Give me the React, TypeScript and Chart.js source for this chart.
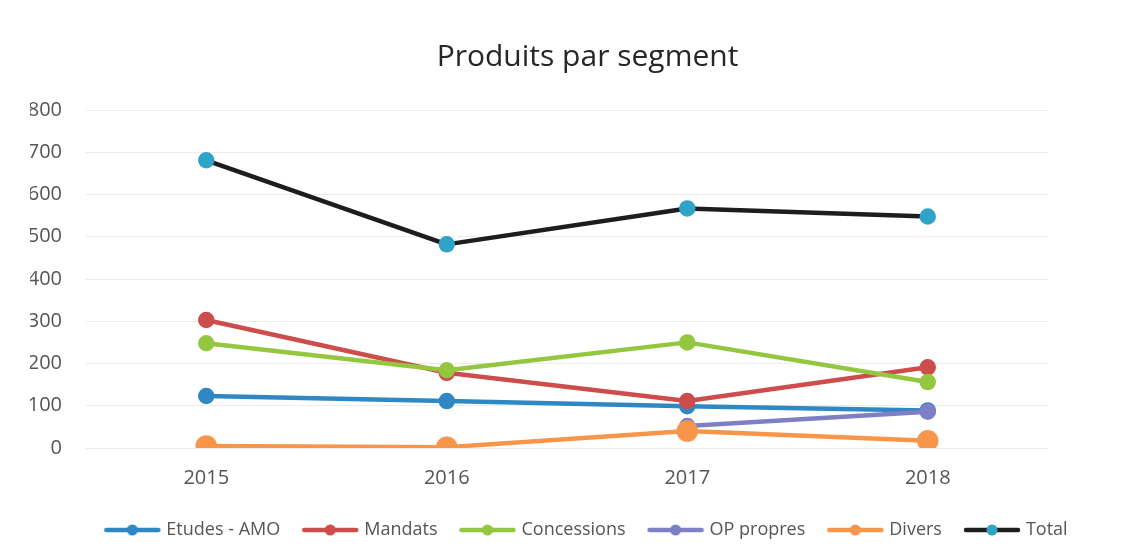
import React, { useEffect, useRef } from "react";
import { Chart, registerables } from "chart.js";

Chart.register(...registerables);

const years = ["2015", "2016", "2017", "2018"];
const etudes = [123, 111, 99, 89];
const mandats = [303, 178, 111, 191];
const concessions = [248, 184, 250, 156];
const opPropres = [null, null, 52, 86];
const divers = [5, 2, 40, 17];
const total = [681, 482, 567, 548];

const seriesNames = ["Etudes - AMO", "Mandats", "Concessions", "OP propres", "Divers", "Total"];
const lineColors = ["#2f88c4", "#cc4d4b", "#94c63f", "#7f7fc6", "#f7964a", "#1d1d1d"];
const dotColors = ["#2f88c4", "#cc4d4b", "#94c63f", "#7f7fc6", "#f7964a", "#2fa3c8"];
const dotRadius = [6, 6, 6, 6, 8.5, 6];

const FONT = "'Open Sans', Lato, sans-serif";

function legendImage(line: string, dot: string): HTMLCanvasElement {
  const c = document.createElement("canvas");
  c.width = 58;
  c.height = 14;
  const ctx = c.getContext("2d")!;
  ctx.strokeStyle = line;
  ctx.lineWidth = 4.5;
  ctx.lineCap = "round";
  ctx.beginPath();
  ctx.moveTo(3, 7);
  ctx.lineTo(55, 7);
  ctx.stroke();
  ctx.fillStyle = dot;
  ctx.beginPath();
  ctx.arc(29, 7, 5.5, 0, Math.PI * 2);
  ctx.fill();
  return c;
}

export default function App() {
  const ref = useRef<HTMLCanvasElement>(null);

  useEffect(() => {
    const values = [etudes, mandats, concessions, opPropres, divers, total];
    const images = seriesNames.map((_, i) => legendImage(lineColors[i], dotColors[i]));
    const chart = new Chart(ref.current!, {
      type: "line",
      data: {
        labels: years,
        datasets: seriesNames.map((name, i) => ({
          label: name,
          data: values[i] as any,
          borderColor: lineColors[i],
          backgroundColor: dotColors[i],
          pointBackgroundColor: dotColors[i],
          pointBorderColor: dotColors[i],
          pointRadius: dotRadius[i],
          pointHoverRadius: dotRadius[i],
          borderWidth: 4.5,
          borderCapStyle: "round" as const,
          borderJoinStyle: "round" as const,
          tension: 0,
          fill: false,
          order: seriesNames.length - i,
        })),
      },
      options: {
        responsive: false,
        animation: false,
        layout: { padding: { left: 30, right: 0, top: 0, bottom: 9 } },
        plugins: {
          title: {
            display: true,
            text: "Produits par segment",
            color: "#262626",
            font: { family: FONT, size: 30, weight: "normal" },
            padding: { top: 39, bottom: 35 },
          },
          legend: {
            position: "bottom",
            labels: {
              usePointStyle: true,
              pointStyleWidth: 50,
              color: "#555555",
              font: { family: FONT, size: 18 },
              padding: 25,
              generateLabels: (chart: any) => {
                const items = Chart.defaults.plugins.legend.labels.generateLabels(chart);
                items.forEach((it: any) => {
                  it.pointStyle = images[it.datasetIndex];
                });
                return items;
              },
              sort: (a: any, b: any) => a.datasetIndex - b.datasetIndex,
            },
          },
          tooltip: { enabled: false },
        },
        scales: {
          x: {
            offset: true,
            afterFit: (scale: any) => {
              scale.height = 48;
            },
            grid: { display: false, drawTicks: false },
            border: { display: false },
            ticks: {
              color: "#555555",
              font: { family: FONT, size: 20 },
              padding: 18,
            },
          },
          y: {
            min: 0,
            max: 800,
            afterFit: (scale: any) => {
              scale.width = 56;
            },
            grid: { color: "#ececec", lineWidth: 1, drawTicks: false },
            border: { display: false },
            ticks: {
              stepSize: 100,
              color: "#555555",
              font: { family: FONT, size: 20 },
              padding: 24,
            },
          },
          yRight: {
            position: "right",
            display: true,
            afterFit: (scale: any) => {
              scale.width = 97;
            },
            grid: { display: false, drawTicks: false },
            border: { display: false },
            ticks: { display: false },
          },
        },
      },
    });
    return () => chart.destroy();
  }, []);

  return (
    <div style={{ position: "absolute", left: 0, top: 0, width: 1145, height: 558, background: "#ffffff" }}>
      <canvas ref={ref} width={1145} height={558} style={{ display: "block" }} />
    </div>
  );
}
